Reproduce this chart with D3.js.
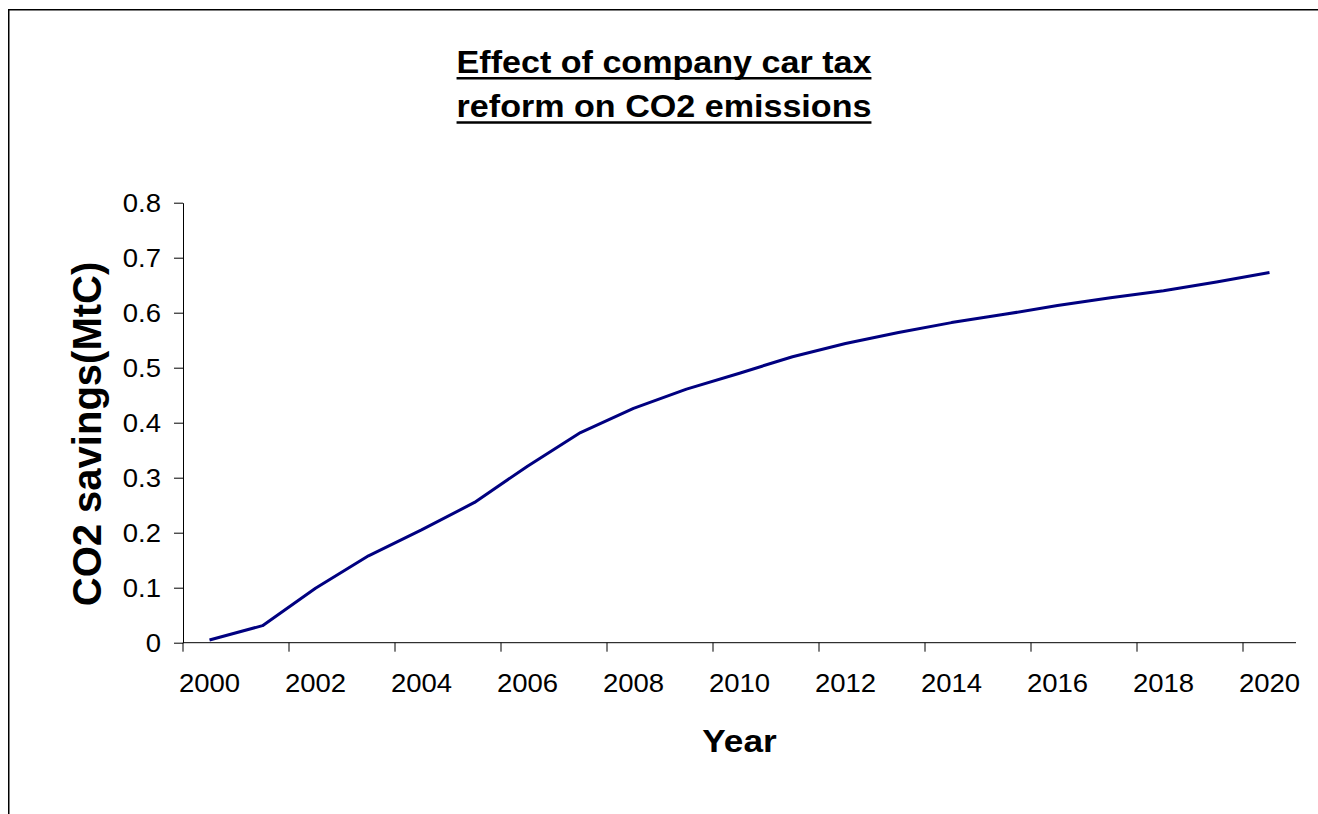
<!DOCTYPE html>
<html>
<head>
<meta charset="UTF-8">
<title>Effect of company car tax reform on CO2 emissions</title>
<style>
  html, body { margin: 0; padding: 0; background: #fff; overflow: hidden; }
  svg { display: block; }
  text { font-family: "Liberation Sans", Arial, sans-serif; fill: #000; }
</style>
</head>
<body>
<script src="https://cdn.jsdelivr.net/npm/d3@7/dist/d3.min.js"></script>
<script>

    // data
    var years = [2000, 2001, 2002, 2003, 2004, 2005, 2006, 2007, 2008, 2009, 2010,
                 2011, 2012, 2013, 2014, 2015, 2016, 2017, 2018, 2019, 2020];
    var savings = [0.005, 0.031, 0.099, 0.158, 0.205, 0.255, 0.321, 0.382, 0.426, 0.461, 0.490,
                   0.520, 0.544, 0.564, 0.582, 0.597, 0.613, 0.627, 0.640, 0.656, 0.673];
    var yTicks = [0, 0.1, 0.2, 0.3, 0.4, 0.5, 0.6, 0.7, 0.8];
    var xLabels = [2000, 2002, 2004, 2006, 2008, 2010, 2012, 2014, 2016, 2018, 2020];
    var titleLines = ["Effect of company car tax", "reform on CO2 emissions"];
    var xTitle = "Year";
    var yTitle = "CO2 savings(MtC)";

    var width = 1318;
    var height = 814;
    var plot = {left: 183, right: 1296, top: 202.7, bottom: 642.7};
    var stretch = 1.1; // text in the picture is a bit wider than normal

    var svg = d3.select("body")
        .append("svg")
        .attr("width", width)
        .attr("height", height);

    // outer frame: only top and left edges are inside the picture
    svg.append("path")
        .attr("d", "M8.75," + height + "V9.75H" + width)
        .attr("fill", "none")
        .attr("stroke", "#000")
        .attr("stroke-width", 1.5);

    // scales
    var xScale = d3.scaleBand()
        .domain(years)
        .range([plot.left, plot.right]);
    var bw = xScale.bandwidth();

    var yScale = d3.scaleLinear()
        .domain([0, 0.8])
        .range([plot.bottom, plot.top]);

    // y axis
    var yAxis = d3.axisLeft(yScale)
        .tickValues(yTicks)
        .tickSize(9)
        .tickSizeOuter(0)
        .tickPadding(13)
        .tickFormat(d => d === 0 ? "0" : d3.format(".1f")(d));

    var gy = svg.append("g")
        .attr("transform", "translate(" + plot.left + ",0)")
        .call(yAxis);
    gy.selectAll("text")
        .attr("font-size", 25)
        .attr("font-family", "Liberation Sans, Arial, sans-serif")
        .attr("dy", "0.36em")
        .attr("transform", "scale(" + stretch + ",1)")
        .attr("x", -22 / stretch);

    // x axis labels (every other year, at category centre)
    var xAxis = d3.axisBottom(xScale)
        .tickValues(xLabels)
        .tickSize(0)
        .tickPadding(32);

    var gx = svg.append("g")
        .attr("transform", "translate(0," + plot.bottom + ")")
        .call(xAxis);
    gx.select(".domain").remove();
    gx.selectAll("text")
        .attr("font-size", 25)
        .attr("font-family", "Liberation Sans, Arial, sans-serif")
        .attr("transform", "scale(" + stretch + ",1)");

    // x axis line and tick marks between categories
    var gxl = svg.append("g")
        .attr("stroke", "#000")
        .attr("stroke-width", 1);
    gxl.append("line")
        .attr("x1", plot.left)
        .attr("x2", plot.right)
        .attr("y1", plot.bottom)
        .attr("y2", plot.bottom);
    gxl.selectAll(".xtick")
        .data(xLabels)
        .join("line")
        .attr("class", "xtick")
        .attr("x1", d => xScale(d))
        .attr("x2", d => xScale(d))
        .attr("y1", plot.bottom)
        .attr("y2", plot.bottom + 9);

    svg.selectAll(".domain, .tick line").attr("stroke", "#000");

    // the line
    var line = d3.line()
        .x((d, i) => xScale(years[i]) + bw / 2)
        .y(d => yScale(d));

    svg.append("path")
        .datum(savings)
        .attr("fill", "none")
        .attr("stroke", "#000080")
        .attr("stroke-width", 3)
        .attr("stroke-linejoin", "round")
        .attr("d", line);

    // title with underline
    var cx = 664;
    var baselines = [72.7, 117];
    titleLines.forEach(function (t, i) {
        var g = svg.append("g")
            .attr("transform", "translate(" + cx + "," + baselines[i] + ") scale(" + stretch + ",1)");
        var txt = g.append("text")
            .attr("text-anchor", "middle")
            .attr("font-size", 31)
            .attr("font-weight", "bold")
            .text(t);
        var w = txt.node().getComputedTextLength();
        g.append("line")
            .attr("x1", -w / 2)
            .attr("x2", w / 2)
            .attr("y1", 5.5)
            .attr("y2", 5.5)
            .attr("stroke", "#000")
            .attr("stroke-width", 2.6);
    });

    // axis titles
    svg.append("g")
        .attr("transform", "translate(" + (plot.left + plot.right) / 2 + ",752) scale(" + stretch + ",1)")
        .append("text")
        .attr("text-anchor", "middle")
        .attr("font-size", 32)
        .attr("font-weight", "bold")
        .text(xTitle);

    svg.append("g")
        .attr("transform", "translate(101,434) rotate(-90)")
        .append("text")
        .attr("text-anchor", "middle")
        .attr("font-size", 40)
        .attr("font-weight", "bold")
        .text(yTitle);

</script>
</body>
</html>
